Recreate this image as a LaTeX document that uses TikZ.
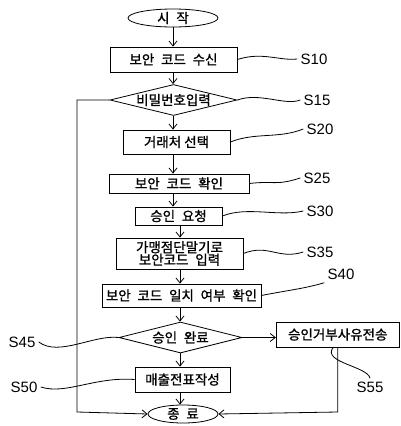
\documentclass[tikz,border=0pt]{standalone}
\usepackage{fontspec}
\setmainfont{Liberation Sans}
\newfontfamily\krfont[FakeBold=1.2]{Noto Sans CJK KR}
\usetikzlibrary{shapes.geometric,arrows.meta}
\newcommand{\ks}{\hspace{0.5em}}
\begin{document}
\begin{tikzpicture}[x=1pt,y=-1pt,
  every node/.style={line width=0.8pt},
  box/.style={draw,rectangle,inner sep=0pt,font=\krfont\fontsize{13.5}{15}\selectfont,align=center},
  dia/.style={draw,diamond,shape aspect=4,inner sep=0pt,font=\krfont\fontsize{13.5}{15}\selectfont},
  term/.style={draw,ellipse,inner sep=0pt,font=\krfont\fontsize{13.5}{15}\selectfont},
  lbl/.style={font=\fontsize{15}{17}\selectfont,inner sep=3pt},
  arr/.style={line width=0.8pt,-{Straight Barb[length=5pt,width=8pt]}},
  lead/.style={line width=0.8pt}]
\fill[white] (0,0) rectangle (400,426);
\useasboundingbox (0,0) rectangle (400,426);
% nodes
\node[term,minimum width=90pt,minimum height=18pt] (start) at (173,18) {시\ks 작};
\node[box,minimum width=127pt,minimum height=25pt] (s10) at (173.5,59.5) {보안\ks 코드\ks 수신};
\node[dia,minimum width=127pt,minimum height=31pt] (s15) at (173.5,100) {비밀번호입력};
\node[box,minimum width=107pt,minimum height=24pt] (s20) at (176.5,142) {거래처 선택};
\node[box,minimum width=140pt,minimum height=19pt] (s25) at (179,183.5) {보안\ks 코드\ks 확인};
\node[box,minimum width=87pt,minimum height=18pt] (s30) at (178.5,216) {승인\ks 요청};
\node[box,minimum width=127pt,minimum height=31pt] (s35) at (179.5,253.5) {가맹점단말기로\\[-2.5pt]보안코드\ks 입력};
\node[box,minimum width=159pt,minimum height=23pt] (s40) at (181.5,295.5) {보안\ks 코드\ks 일치\ks 여부\ks 확인};
\node[dia,minimum width=123pt,minimum height=31pt] (s45) at (180.5,337.5) {승인\ks 완료};
\node[box,minimum width=123pt,minimum height=25pt] (s55) at (337.75,334.5) {승인거부사유전송};
\node[box,minimum width=95pt,minimum height=25pt] (s50) at (182.5,379.5) {매출전표작성};
\node[term,minimum width=70pt,minimum height=18pt] (end) at (183,414) {종\ks 료};
% labels
\node[lbl] (l10) at (314,59) {S10};
\node[lbl] (l15) at (317,100) {S15};
\node[lbl] (l20) at (320,129) {S20};
\node[lbl] (l25) at (317,178) {S25};
\node[lbl] (l30) at (320,211) {S30};
\node[lbl] (l35) at (320,252) {S35};
\node[lbl] (l40) at (341,274) {S40};
\node[lbl] (l45) at (22,342) {S45};
\node[lbl] (l50) at (24,387) {S50};
\node[lbl] (l55) at (370,387) {S55};
% column coordinates
\coordinate (ca) at (173,0);
\coordinate (cb) at (180,0);
\coordinate (lx) at (77,0);
\coordinate (ly) at (0,412);
% arrows
\draw[arr] (start.south -| ca) -- (s10.north -| ca);
\draw[arr] (s10.south -| ca) -- (s15.north -| ca);
\draw[arr] (s15.south -| ca) -- (s20.north -| ca);
\draw[arr] (s20.south -| ca) -- (s25.north -| ca);
\draw[arr] (s25.south -| ca) -- (s30.north -| ca);
\draw[arr] (s30.south -| cb) -- (s35.north -| cb);
\draw[arr] (s35.south -| cb) -- (s40.north -| cb);
\draw[arr] (s40.south -| cb) -- (s45.north -| cb);
\draw[arr] (s45.south -| cb) -- (s50.north -| cb);
\draw[arr] (s50.south -| cb) -- (end.north -| cb);
\draw[arr] (s45.east) -- (s45.east -| s55.west);
\draw[arr] (s15.west) -- (s15.west -| lx) -- (lx |- ly) -- (end.west);
\draw[arr] (s55.south) -- (s55.south |- ly) -- (end.east);
% leaders
\draw[lead] (s10.east) .. controls +(25,-8) and +(-18,2) .. (l10.west);
\draw[lead] (s15.east) .. controls +(22,-8) and +(-15,6) .. (l15.west);
\draw[lead] (s20.east) .. controls +(25,-10) and +(-25,10) .. (l20.west);
\draw[lead] (s25.east) .. controls +(25,-3) and +(-25,8) .. (l25.west);
\draw[lead] (s30.east) .. controls +(25,-10) and +(-25,6) .. (l30.west);
\draw[lead] (s35.east) .. controls +(25,-10) and +(-25,8) .. (l35.west);
\draw[lead] (s40.east) .. controls +(25,-5) and +(-20,6) .. (l40.south west);
\draw[lead] (l45.east) .. controls +(20,15) and +(-25,-3) .. (s45.west);
\draw[lead] (l50.east) .. controls +(25,8) and +(-40,-3) .. (s50.west);
\draw[lead] ([xshift=-4.5pt]s55.south) .. controls +(-12,15) and +(-2,-12) .. (l55.north);
\end{tikzpicture}
\end{document}
